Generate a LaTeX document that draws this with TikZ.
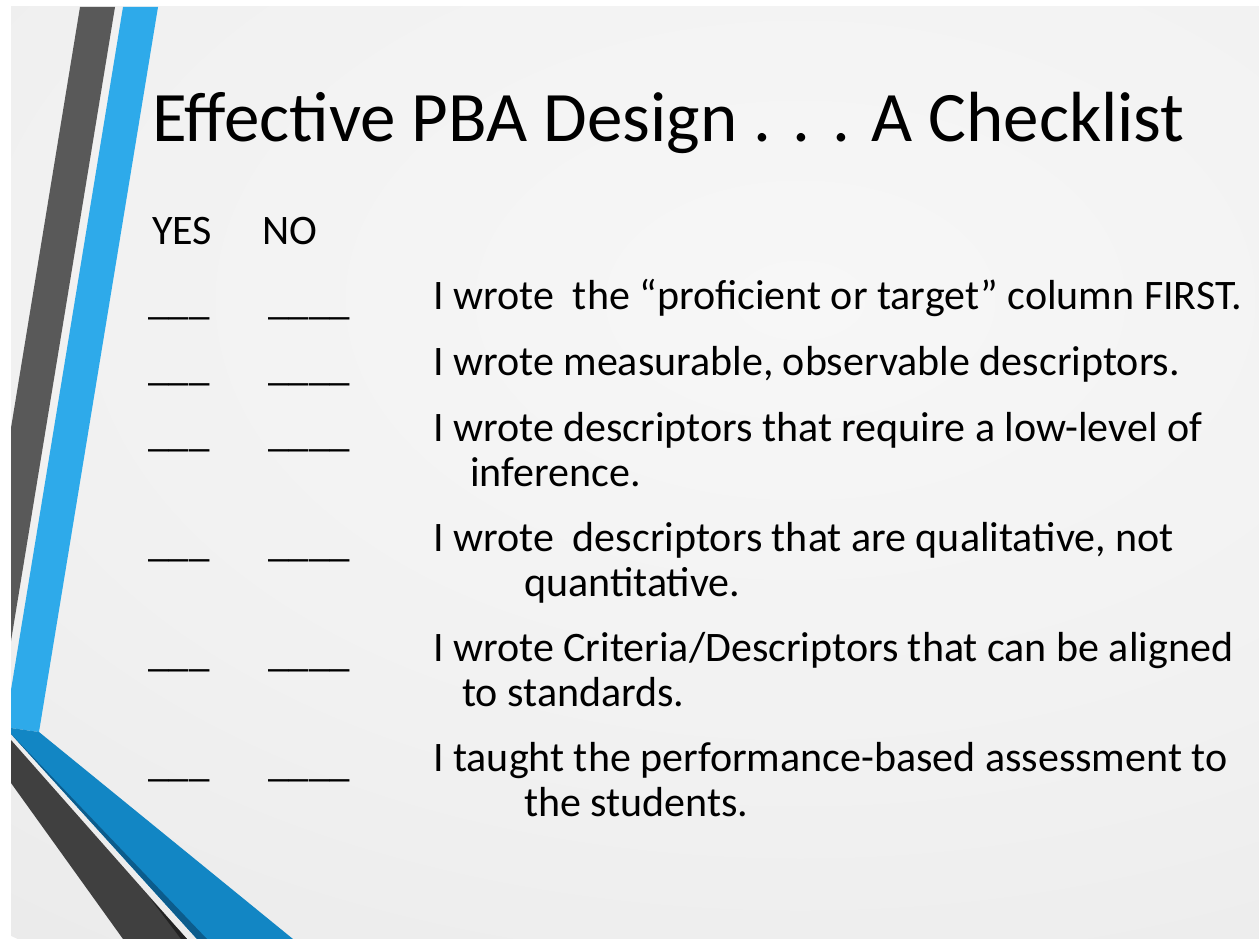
\documentclass[tikz,border=0pt]{standalone}
\usepackage{fontspec}
\setmainfont{Carlito}
\definecolor{bgA}{RGB}{247,247,247}
\definecolor{bgB}{RGB}{241,241,241}
\definecolor{bgC}{RGB}{233,233,233}
\definecolor{bgD}{RGB}{218,218,218}
\definecolor{bgE}{RGB}{212,212,212}
\definecolor{grayband}{RGB}{89,89,89}
\definecolor{graybandlow}{RGB}{64,64,64}
\definecolor{grayedge}{RGB}{34,34,34}
\definecolor{blueband}{RGB}{46,170,234}
\definecolor{bluebandlow}{RGB}{18,134,196}
\definecolor{blueedge}{RGB}{12,92,140}
\pgfdeclareradialshading{slidebg}{\pgfpoint{0bp}{0bp}}{color(0bp)=(bgA); color(15bp)=(bgB); color(28bp)=(bgC); color(40bp)=(bgD); color(50bp)=(bgE)}
\begin{document}
\begin{tikzpicture}[x=1pt,y=-1pt,
  titletext/.style={anchor=base west,inner sep=0pt,font=\fontsize{71}{78}\selectfont},
  bodytext/.style={anchor=base west,inner sep=0pt,font=\fontsize{42}{48}\selectfont},
  blanktext/.style={anchor=base west,inner sep=0pt,font=\fontsize{41}{50}\selectfont}]
\useasboundingbox (0,0) rectangle (1259,939);
\fill[white] (0,0) rectangle (1259,939);
\begin{scope}
\clip (11,7) rectangle (1259,939);
\shade[shading=slidebg] (800,300) ellipse (1300 and 800);
% top bands
\fill[grayband] (80,7) -- (115,7) -- (11,641) -- (11,428) -- cycle;
\fill[blueband] (123,7) -- (158,7) -- (39,732) -- (11,728) -- (11,690) -- cycle;
% bottom bands
\fill[graybandlow] (11,740) -- (187,939) -- (123,939) -- (11,783) -- cycle;
\fill[grayedge] (150,898) -- (187,939) -- (181,939) -- cycle;
\fill[bluebandlow] (11,728) -- (39,732) -- (293,939) -- (197,939) -- (11,734) -- cycle;
\fill[blueedge] (11,734) -- (197,939) -- (207,939) -- cycle;
\end{scope}
% title
\node[titletext] (title) at (152,142) {Effective PBA Design . . . A Checklist};
% headers
\node[bodytext] (yes) at (152,244) {YES};
\node[bodytext] (no) at (262,244) {NO};
% blanks
\foreach \n/\y in {1/314,2/380,3/446,4/556,5/666,6/776}{
  \node[blanktext] (y\n) at (148,\y) {\_\_\_};
  \node[blanktext] (n\n) at (268,\y) {\_\_\_\_};
}
% items
\node[bodytext] (i1) at (433,309) {I wrote\ \ the “proficient or target” column FIRST.};
\node[bodytext] (i2) at (433,375) {I wrote measurable, observable descriptors.};
\node[bodytext] (i3) at (433,441) {I wrote descriptors that require a low-level of};
\node[bodytext] (i3b) at (470,486) {inference.};
\node[bodytext] (i4) at (433,551) {I wrote\ \ descriptors that are qualitative, not};
\node[bodytext] (i4b) at (524,596) {quantitative.};
\node[bodytext] (i5) at (433,661) {I wrote Criteria/Descriptors that can be aligned};
\node[bodytext] (i5b) at (462,706) {to standards.};
\node[bodytext] (i6) at (433,771) {I taught the performance-based assessment to};
\node[bodytext] (i6b) at (524,816) {the students.};
\end{tikzpicture}
\end{document}
